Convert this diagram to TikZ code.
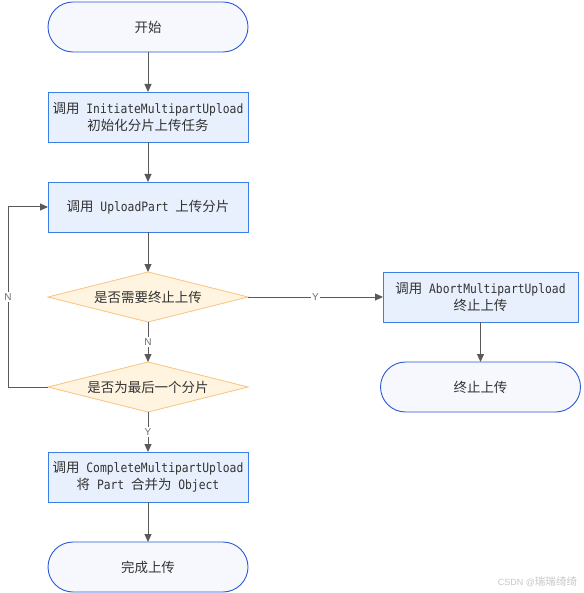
\documentclass[tikz,border=0pt]{standalone}
\usepackage{fontspec}
\setmainfont{DejaVu Sans Mono}[Scale=1.12, FakeStretch=0.88]
\newfontfamily\cjkfont[Scale=1.17]{Noto Sans CJK SC}
\newfontfamily\lblfont{Liberation Sans}
\usetikzlibrary{shapes.geometric, arrows.meta, positioning}
\definecolor{termfill}{RGB}{246, 248, 254}
\definecolor{termdraw}{RGB}{40, 88, 214}
\definecolor{stepfill}{RGB}{232, 240, 253}
\definecolor{stepdraw}{RGB}{58, 127, 230}
\definecolor{askfill}{RGB}{254, 244, 224}
\definecolor{askdraw}{RGB}{248, 200, 138}
\definecolor{arrowcolor}{RGB}{89, 89, 89}
\definecolor{textcolor}{RGB}{51, 51, 51}
\definecolor{lblcolor}{RGB}{110, 110, 110}
\newcommand{\zh}[1]{{\cjkfont #1}}
\tikzset{
  termblock/.style={
    rectangle, rounded corners=25pt, outer sep=0pt,
    minimum width=200pt, minimum height=50pt,
    draw=termdraw, fill=termfill, line width=0.9pt,
    text=textcolor, font=\fontsize{11.5}{17}\selectfont
  },
  stepblock/.style={
    rectangle, align=center, outer sep=0pt,
    minimum width=200pt, minimum height=50pt,
    draw=stepdraw, fill=stepfill, line width=0.9pt,
    text=textcolor, font=\fontsize{11.5}{17}\selectfont
  },
  askblock/.style={
    diamond, aspect=4, inner sep=0pt, outer sep=0pt,
    minimum width=200pt, minimum height=50pt,
    draw=askdraw, fill=askfill, line width=0.9pt,
    text=textcolor, font=\fontsize{11.5}{17}\selectfont
  },
  arr/.style={-{Triangle[length=8pt, width=7pt]}, line width=1pt, color=arrowcolor},
  lbl/.style={font=\lblfont\fontsize{10}{11}\selectfont, text=lblcolor, fill=white, inner sep=1.5pt}
}

\begin{document}
\begin{tikzpicture}[node distance=40pt]

  \useasboundingbox (0,0) rectangle (583pt,-593pt);

  % ── Main column ────────────────────────────────────────────────
  \node[termblock] (start) at (148pt,-27pt) {\zh{开始}};
  \node[stepblock, below=of start] (init)
    {\zh{调用} InitiateMultipartUpload\\\zh{初始化分片上传任务}};
  \node[stepblock, below=of init] (upload)
    {\zh{调用} UploadPart \zh{上传分片}};
  \node[askblock, below=of upload] (askabort) {\zh{是否需要终止上传}};
  \node[askblock, below=of askabort] (asklast) {\zh{是否为最后一个分片}};
  \node[stepblock, below=of asklast] (complete)
    {\zh{调用} CompleteMultipartUpload\\\zh{将} Part \zh{合并为} Object};
  \node[termblock, below=of complete] (done) {\zh{完成上传}};

  % ── Abort branch ───────────────────────────────────────────────
  \node[stepblock, minimum width=195pt, right=135pt of askabort] (abort)
    {\zh{调用} AbortMultipartUpload\\\zh{终止上传}};
  \node[termblock, below=of abort] (aborted) {\zh{终止上传}};

  % ── Main flow arrows ────────────────────────────────────────────
  \draw[arr] (start.south)    -- (init.north);
  \draw[arr] (init.south)     -- (upload.north);
  \draw[arr] (upload.south)   -- (askabort.north);
  \draw[arr] (askabort.south) -- (asklast.north)
    node[pos=0.5, lbl] {N};
  \draw[arr] (asklast.south)  -- (complete.north)
    node[pos=0.5, lbl] {Y};
  \draw[arr] (complete.south) -- (done.north);

  % ── Abort and loop arrows ───────────────────────────────────────
  \draw[arr] (askabort.east) -- (abort.west)
    node[pos=0.5, lbl] {Y};
  \draw[arr] (abort.south) -- (aborted.north);
  \draw[arr] (asklast.west) -- ++(-40pt,0) |- (upload.west)
    node[pos=0.25, lbl] {N};

  % ── Watermark ──────────────────────────────────────────────────
  \node[font=\lblfont\fontsize{9}{10}\selectfont, text=gray!45, anchor=east]
    (wmark) at (581pt,-582pt) {CSDN @\zh{瑞瑞绮绮}};

\end{tikzpicture}
\end{document}
